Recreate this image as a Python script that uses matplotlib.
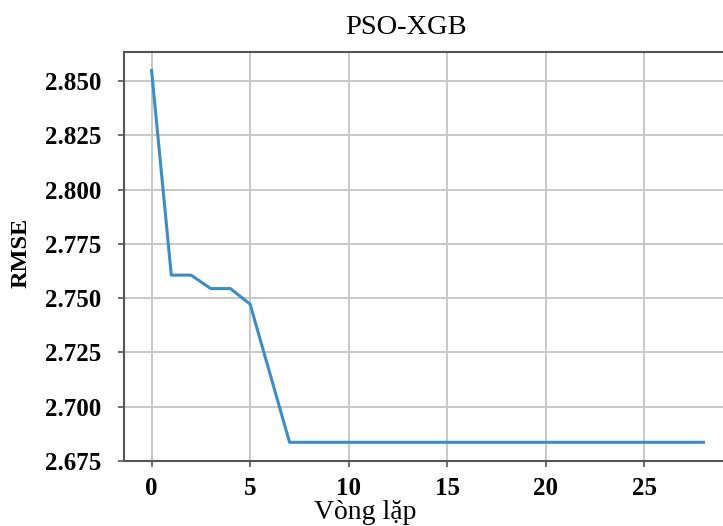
import matplotlib.pyplot as plt

# RMSE theo vong lap (doc tu hinh)
vong_lap = list(range(29))
rmse = [2.8548, 2.7606, 2.7606, 2.7544, 2.7544, 2.7472, 2.7154] + [2.6836] * 22

plt.rcParams['font.family'] = ['Liberation Serif', 'DejaVu Serif']

fig = plt.figure(figsize=(7.23, 5.26), dpi=100)
ax = fig.add_axes([0.1715, 0.1236, 0.8396, 0.7776])

ax.plot(vong_lap, rmse, color='#3b8dc6', linewidth=2.2)

ax.set_xticks([0, 5, 10, 15, 20, 25])
ax.set_yticks([2.675, 2.700, 2.725, 2.750, 2.775, 2.800, 2.825, 2.850])
ax.yaxis.set_major_formatter(plt.FormatStrFormatter('%.3f'))
ax.grid(True, color='#c8c8c8', linewidth=1.4)
ax.set_axisbelow(True)

for s in ax.spines.values():
    s.set_color('#555555')
    s.set_linewidth(1.5)

ax.tick_params(axis='both', colors='#555555', length=4.5, width=1.2, labelsize=18,
               labelcolor='black')
ax.tick_params(axis='y', pad=12)
ax.tick_params(axis='x', pad=7)
for lb in ax.get_xticklabels() + ax.get_yticklabels():
    lb.set_fontweight('bold')

ax.set_title('PSO-XGB', fontsize=20.5, x=0.465, pad=13)
ax.set_xlabel('Vòng lặp', fontsize=20)
ax.xaxis.set_label_coords(0.397, -0.096)
ax.set_ylabel('RMSE', fontsize=17.5, fontweight='bold')
ax.yaxis.set_label_coords(-0.152, 0.51)

fig.savefig('out.png', dpi=100)
